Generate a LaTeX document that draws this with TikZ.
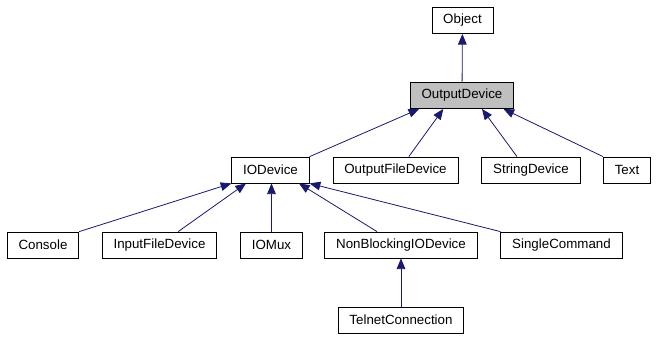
\documentclass[tikz,border=0pt]{standalone}
\usepackage{fontspec}
\setmainfont{Liberation Sans}
\usetikzlibrary{arrows.meta}

\definecolor{edgeblue}{RGB}{25,25,112}

\tikzset{
  cls/.style={draw, rectangle, inner xsep=8.5pt, inner ysep=0pt, minimum height=19.5pt, line width=0.6pt},
  inherit/.style={draw=edgeblue, line width=0.6pt, -{Triangle[width=6.5pt,length=8pt]}, edgeblue},
}

\begin{document}
\begin{tikzpicture}[x=0.75pt, y=-0.75pt]
        \useasboundingbox (0,0) rectangle (658,340);
        \node[cls] (object) at (462.5,20.5) {Object};
        \node[cls, fill=black!25] (outdev) at (462,95.5) {OutputDevice};
        \node[cls] (iodev) at (270.5,170) {IODevice};
        \node[cls] (outfile) at (395.5,170) {OutputFileDevice};
        \node[cls] (string) at (531,170) {StringDevice};
        \node[cls] (text) at (627,170) {Text};
        \node[cls] (console) at (43,245) {Console};
        \node[cls] (infile) at (159.5,245) {InputFileDevice};
        \node[cls] (iomux) at (271.5,245) {IOMux};
        \node[cls] (nonblock) at (401,245) {NonBlockingIODevice};
        \node[cls] (single) at (561.5,245) {SingleCommand};
        \node[cls] (telnet) at (401,320) {TelnetConnection};

        % subclass -> base class
        \draw[inherit] (outdev) -- (object);
        \draw[inherit] (iodev.north east) -- ([xshift=7pt]outdev.south west);
        \draw[inherit] ([xshift=10pt]outfile.north) -- ([xshift=-14pt]outdev.south);
        \draw[inherit] ([xshift=-10.5pt]string.north) -- ([xshift=15pt]outdev.south);
        \draw[inherit] (text.north west) -- ([xshift=-8pt]outdev.south east);
        \draw[inherit] (console.north east) -- (iodev.south west);
        \draw[inherit] ([xshift=14pt]infile.north) -- ([xshift=11pt]iodev.south west);
        \draw[inherit] (iomux.north) -- (iomux.north |- iodev.south);
        \draw[inherit] ([xshift=-18pt]nonblock.north) -- ([xshift=-8pt]iodev.south east);
        \draw[inherit] (single.north west) -- (iodev.south east);
        \draw[inherit] (telnet) -- (nonblock);
    \end{tikzpicture}
\end{document}
